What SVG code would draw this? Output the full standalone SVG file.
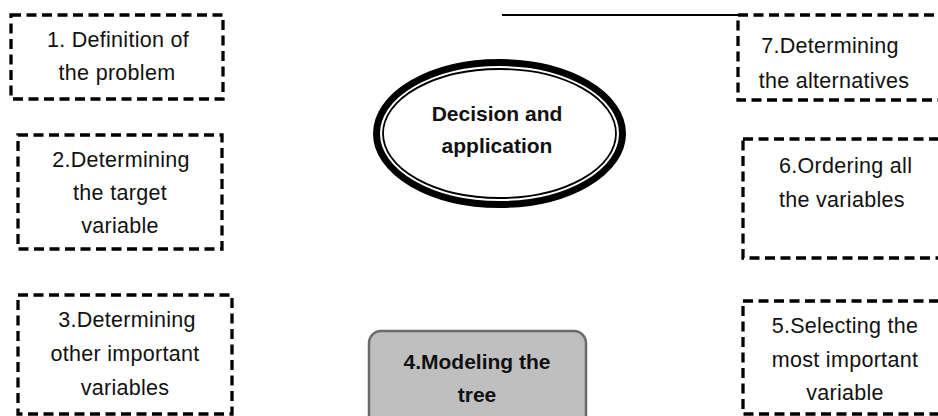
<svg xmlns="http://www.w3.org/2000/svg" width="938" height="416" viewBox="0 0 938 416">
  <style>
    .step { fill: #ffffff; stroke: #000000; stroke-width: 3.3; stroke-dasharray: 10 5.5; }
    .txt { font-family: "Liberation Sans", Arial, sans-serif; font-size: 21.5px; letter-spacing: 0.3px; fill: #111111; text-anchor: middle; }
    .bold { font-family: "Liberation Sans", Arial, sans-serif; font-size: 21px; font-weight: bold; fill: #111111; text-anchor: middle; }
    .link { fill: none; stroke: #000000; stroke-width: 2; }
  </style>
  <rect width="938" height="416" fill="#ffffff"/>

  <!-- solid line running into the top-left corner of step 7 -->
  <g id="connectors">
    <line class="link" x1="502" y1="15" x2="738" y2="15"/>
  </g>

  <g id="step1">
    <rect class="step" x="11" y="15" width="212" height="84"/>
    <text class="txt" x="118" y="47">1. Definition of</text>
    <text class="txt" x="117" y="80">the problem</text>
  </g>

  <g id="step2">
    <rect class="step" x="18" y="135" width="204" height="114"/>
    <text class="txt" x="121" y="167">2.Determining</text>
    <text class="txt" x="120" y="200">the target</text>
    <text class="txt" x="120" y="233">variable</text>
  </g>

  <g id="step3">
    <rect class="step" x="18" y="295" width="214" height="119"/>
    <text class="txt" x="127" y="327">3.Determining</text>
    <text class="txt" x="125" y="361">other important</text>
    <text class="txt" x="125" y="395">variables</text>
  </g>

  <!-- double-ring ellipse: heavy outer line, thin inner line -->
  <g id="decision">
    <ellipse cx="499.5" cy="133.5" rx="123" ry="71" fill="#ffffff" stroke="#000000" stroke-width="7"/>
    <ellipse cx="499.5" cy="133.5" rx="116.5" ry="64.5" fill="#ffffff" stroke="#000000" stroke-width="1.8"/>
    <text class="bold" x="497" y="121">Decision and</text>
    <text class="bold" x="497" y="153">application</text>
  </g>

  <g id="step4">
    <rect x="369" y="331" width="217" height="100" rx="12" ry="12" fill="#bfbfbf" stroke="#6a6a6a" stroke-width="2.5"/>
    <text class="bold" x="477" y="369">4.Modeling the</text>
    <text class="bold" x="477" y="402">tree</text>
  </g>

  <g id="step5">
    <rect class="step" x="743" y="301" width="220" height="113"/>
    <text class="txt" x="845" y="333">5.Selecting the</text>
    <text class="txt" x="845" y="367">most important</text>
    <text class="txt" x="845" y="400">variable</text>
  </g>

  <g id="step6">
    <rect class="step" x="743" y="139" width="220" height="119"/>
    <text class="txt" x="779" y="173" style="text-anchor:start">6.Ordering all</text>
    <text class="txt" x="779" y="207" style="text-anchor:start">the variables</text>
  </g>

  <g id="step7">
    <rect class="step" x="738" y="15" width="225" height="85"/>
    <text class="txt" x="830" y="53">7.Determining</text>
    <text class="txt" x="834" y="88">the alternatives</text>
  </g>
</svg>
